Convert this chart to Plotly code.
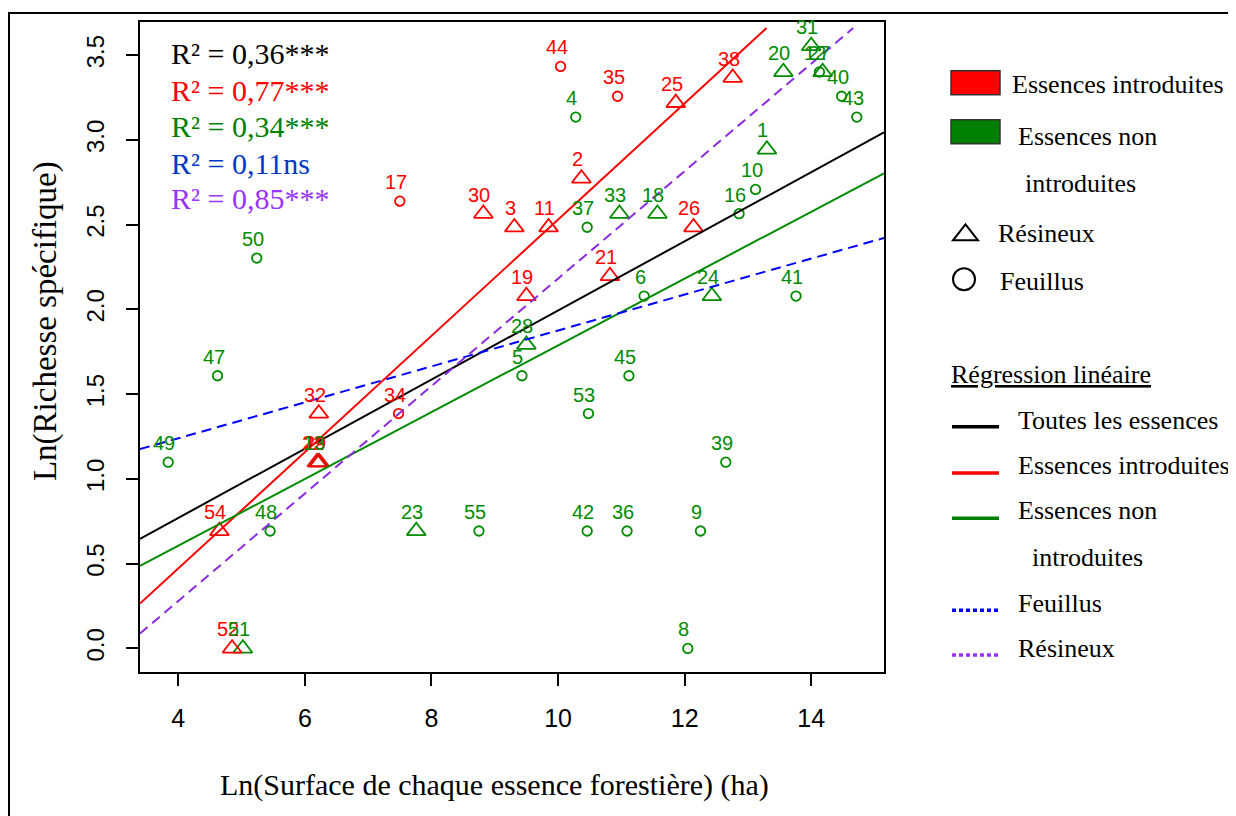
import plotly.graph_objects as go

# ---------------- data ----------------
point_id = ["44", "35", "25", "38", "2", "17", "30", "3", "11", "26", "21", "19",
            "32", "34", "22", "29", "54", "52",
            "31", "20", "27", "12", "40", "43", "4", "1", "10", "16", "33", "18",
            "37", "6", "24", "41", "50", "28", "5", "45", "47", "53", "49", "39",
            "48", "23", "55", "42", "36", "9", "8", "51", "13"]
ln_surface = [10.04, 10.94, 11.86, 12.76, 10.37, 7.50, 8.82, 9.31, 9.85, 12.14, 10.82, 9.50,
              6.22, 7.48, 6.19, 6.23, 4.65, 4.85,
              14.00, 13.56, 14.18, 14.13, 14.48, 14.72, 10.28, 13.30, 13.12, 12.86, 10.97, 11.57,
              10.46, 11.36, 12.43, 13.76, 5.24, 9.50, 9.43, 11.12, 4.62, 10.48, 3.84, 12.65,
              5.45, 7.76, 8.75, 10.46, 11.09, 12.25, 12.05, 5.02, 6.21]
ln_richesse = [3.434, 3.258, 3.219, 3.367, 2.773, 2.639, 2.565, 2.485, 2.485, 2.485, 2.197, 2.079,
               1.386, 1.386, 1.099, 1.099, 0.693, 0.000,
               3.555, 3.401, 3.401, 3.401, 3.258, 3.135, 3.135, 2.944, 2.708, 2.565, 2.565, 2.565,
               2.485, 2.079, 2.079, 2.079, 2.303, 1.792, 1.609, 1.609, 1.609, 1.386, 1.099, 1.099,
               0.693, 0.693, 0.693, 0.693, 0.693, 0.693, 0.000, 0.000, 1.099]
origine = ["I"] * 18 + ["N"] * 33
type_essence = ["F", "F", "R", "R", "R", "F", "R", "R", "R", "R", "R", "R",
                "R", "F", "R", "R", "R", "R",
                "R", "R", "R", "F", "F", "F", "F", "R", "F", "F", "R", "R",
                "F", "F", "R", "F", "F", "R", "F", "F", "F", "F", "F", "F",
                "F", "R", "F", "F", "F", "F", "F", "R", "R"]

reg_names = ["Toutes les essences", "Essences introduites", "Essences non introduites",
             "Feuillus", "Résineux"]
reg_intercept = [-0.046, -0.900, -0.182, 0.816, -0.988]
reg_slope = [0.204, 0.343, 0.197, 0.106, 0.317]
reg_r2 = ["0,36***", "0,77***", "0,34***", "0,11ns", "0,85***"]

x_ticks = [4, 6, 8, 10, 12, 14]
y_ticks = [0.0, 0.5, 1.0, 1.5, 2.0, 2.5, 3.0, 3.5]

# ---------------- styles ----------------
RED = "#FF0000"
GREEN = "#008B00"
reg_colors = ["#000000", "#FF0000", "#008B00", "#0000FF", "#8A2BE2"]
reg_dash = ["solid", "solid", "solid", "10px,6px", "10px,6px"]
r2_colors = ["#000000", "#FF0000", "#008000", "#0038C8", "#9933FF"]
SERIF = "'Liberation Serif', 'Times New Roman', serif"
SANS = "'Liberation Sans', Arial, sans-serif"

X_RANGE = [3.395, 15.15]
Y_RANGE = [-0.139, 3.696]
Y_CLIP = 3.66

# page has an 8px body margin: the figure is drawn from (8, 8) on screen
OFF = 8
W, H = 1228, 808
ML, MT = 140 - OFF, 20 - OFF
MR = W - (884 - OFF)
MB = H - (672 - OFF)
PW, PH = W - ML - MR, H - MT - MB


def px(xs):
    """screen pixel x -> paper"""
    return (xs - OFF - ML) / PW


def py(ys):
    """screen pixel y -> paper"""
    return (H - MB - (ys - OFF)) / PH


fig = go.Figure()

# points
for org, col in [("N", GREEN), ("I", RED)]:
    for typ, sym, size in [("F", "circle-open", 9.5), ("R", "triangle-up-open", 16.5)]:
        xs = [x for x, o, t in zip(ln_surface, origine, type_essence) if o == org and t == typ]
        ys = [y for y, o, t in zip(ln_richesse, origine, type_essence) if o == org and t == typ]
        fig.add_trace(go.Scatter(
            x=xs, y=ys, mode="markers", showlegend=False, hoverinfo="skip",
            marker=dict(symbol=sym, size=size, color=col, line=dict(color=col, width=1.8)),
            cliponaxis=False))

# regression lines
for name, b, m, c, d in zip(reg_names, reg_intercept, reg_slope, reg_colors, reg_dash):
    x0 = X_RANGE[0]
    x1 = min(X_RANGE[1], (Y_CLIP - b) / m)
    fig.add_trace(go.Scatter(
        x=[x0, x1], y=[b + m * x0, b + m * x1], mode="lines", name=name,
        showlegend=False, hoverinfo="skip",
        line=dict(color=c, width=2, dash=d)))

annotations = []
# point labels
for pid, x, y, o in zip(point_id, ln_surface, ln_richesse, origine):
    annotations.append(dict(
        x=x, y=y, xref="x", yref="y", text=pid, showarrow=False,
        xshift=-4, yshift=19, xanchor="center", yanchor="middle",
        font=dict(family=SANS, size=20, color=RED if o == "I" else GREEN)))

# R² texts
r2_y = [51.7, 88.3, 125.0, 161.7, 196.7]
for txt, c, yy in zip(reg_r2, r2_colors, r2_y):
    annotations.append(dict(
        x=px(169), y=py(yy), xref="paper", yref="paper",
        text="R² = " + txt, showarrow=False,
        xanchor="left", yanchor="middle",
        font=dict(family=SERIF, size=30, color=c)))

# axis titles
annotations.append(dict(
    x=px(494), y=py(785), xref="paper", yref="paper",
    text="Ln(Surface de chaque essence forestière) (ha)", showarrow=False,
    xanchor="center", yanchor="middle", font=dict(family=SERIF, size=30, color="black")))
annotations.append(dict(
    x=px(45), y=py(320), xref="paper", yref="paper",
    text="Ln(Richesse spécifique)", showarrow=False, textangle=-90,
    xanchor="center", yanchor="middle", font=dict(family=SERIF, size=33, color="black")))

# legend texts
leg_texts = [
    ("Essences introduites", 1010, 83),
    ("Essences non", 1016, 135),
    ("introduites", 1023, 181.7),
    ("Résineux", 996, 231.7),
    ("Feuillus", 998, 280),
    ("<u>Régression linéaire</u>", 949, 373.3),
    ("Toutes les essences", 1016, 420),
    ("Essences introduites", 1016, 465),
    ("Essences non", 1016, 510),
    ("introduites", 1030, 556.7),
    ("Feuillus", 1016, 603.3),
    ("Résineux", 1016, 648.3),
]
for t, xx, yy in leg_texts:
    annotations.append(dict(
        x=px(xx), y=py(yy), xref="paper", yref="paper", text=t, showarrow=False,
        xanchor="left", yanchor="middle", font=dict(family=SERIF, size=26, color="black")))

shapes = []
# outer frame
shapes.append(dict(type="rect", xref="paper", yref="paper",
                   x0=px(9), x1=px(1260), y0=py(11), y1=py(840),
                   line=dict(color="black", width=2), fillcolor="rgba(0,0,0,0)", layer="below"))
# legend swatches
shapes.append(dict(type="rect", xref="paper", yref="paper", x0=px(951), x1=px(1000),
                   y0=py(69), y1=py(93), fillcolor="#FF0000", line=dict(color="#333333", width=1.5)))
shapes.append(dict(type="rect", xref="paper", yref="paper", x0=px(951), x1=px(1000),
                   y0=py(118), y1=py(142), fillcolor="#007F00", line=dict(color="#333333", width=1.5)))
tri = "M {:.5f} {:.5f} L {:.5f} {:.5f} L {:.5f} {:.5f} Z".format(
    px(953), py(239), px(978), py(239), px(965.5), py(223))
shapes.append(dict(type="path", xref="paper", yref="paper", path=tri,
                   line=dict(color="black", width=2)))
shapes.append(dict(type="circle", xref="paper", yref="paper", x0=px(953), x1=px(975),
                   y0=py(267), y1=py(289), line=dict(color="black", width=2)))
leg_lines = [(426, "#000000", "solid", 3.5), (472.3, "#FF0000", "solid", 3.5),
             (517.7, "#008000", "solid", 3.5), (610, "#0000FF", "4px,3px", 3.5),
             (655, "#9933FF", "4px,3px", 3.5)]
for yy, c, d, w in leg_lines:
    shapes.append(dict(type="line", xref="paper", yref="paper", x0=px(952), x1=px(999),
                       y0=py(yy), y1=py(yy), line=dict(color=c, width=w, dash=d)))

fig.update_layout(
    width=W, height=H,
    margin=dict(l=ML, r=MR, t=MT, b=MB),
    paper_bgcolor="white", plot_bgcolor="white",
    showlegend=False,
    annotations=annotations, shapes=shapes,
    xaxis=dict(range=X_RANGE, tickvals=x_ticks, ticktext=[str(v) for v in x_ticks],
               showgrid=False, zeroline=False, showline=True, mirror=True,
               linecolor="black", linewidth=2, ticks="outside", ticklen=12, tickwidth=2,
               tickcolor="black", ticklabelstandoff=11,
               tickfont=dict(family=SANS, size=25, color="black")),
    yaxis=dict(range=Y_RANGE, tickvals=y_ticks, ticktext=["%.1f" % v for v in y_ticks],
               showgrid=False, zeroline=False, showline=True, mirror=True,
               linecolor="black", linewidth=2, ticks="outside", ticklen=12, tickwidth=2,
               tickcolor="black", tickangle=-90, ticklabelstandoff=12,
               tickfont=dict(family=SANS, size=24, color="black")),
)

fig.write_html("out.html")
